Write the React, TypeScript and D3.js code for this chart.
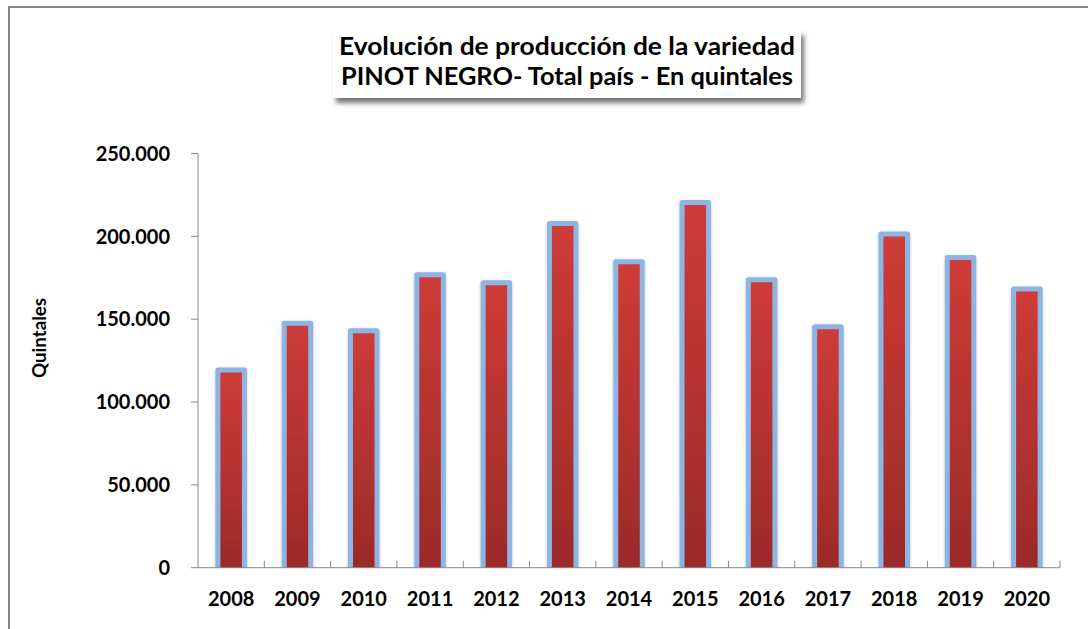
import React from "react";
import * as d3 from "d3";

const years: string[] = ["2008","2009","2010","2011","2012","2013","2014","2015","2016","2017","2018","2019","2020"];
const quintales: number[] = [119300,147500,143000,176800,172000,207700,184700,220400,173800,145500,201400,187300,168200];
const yTicks: number[] = [0,50000,100000,150000,200000,250000];
const titleLines: string[] = ["Evolución de producción de la variedad","PINOT NEGRO- Total país - En quintales"];
const yTitle = "Quintales";

const W = 1088, H = 629;
const plot = { left: 198, right: 1060, top: 153.5, bottom: 567.7 };
const FONT = "Lato, 'Open Sans', sans-serif";

export default function App() {
  const x = d3.scaleBand<string>().domain(years).range([plot.left, plot.right]).padding(0);
  const y = d3.scaleLinear().domain([0, 250000]).range([plot.bottom, plot.top]);
  const fmt = (v: number) => d3.format(",")(v).replace(/,/g, ".");
  const bw = x.bandwidth() * 0.4;
  return (
    <svg width={W} height={H} style={{ position: "absolute", left: 0, top: 0, background: "#fff" }}>
      <defs>
        <linearGradient id="redg" x1="0" y1="0" x2="0" y2="1">
          <stop offset="0%" stopColor="#ce3c38" />
          <stop offset="100%" stopColor="#9a2a28" />
        </linearGradient>
        <filter id="bshadow" x="-30%" y="-10%" width="160%" height="120%">
          <feDropShadow dx="0" dy="1" stdDeviation="1.5" floodColor="#000" floodOpacity="0.25" />
        </filter>
        <filter id="tshadow" x="-10%" y="-20%" width="120%" height="160%">
          <feDropShadow dx="3" dy="5" stdDeviation="2.5" floodColor="#000" floodOpacity="0.55" />
        </filter>
        <clipPath id="plotclip">
          <rect x={0} y={0} width={W} height={plot.bottom} />
        </clipPath>
      </defs>
      <rect x={9} y={7} width={W + 50} height={H + 50} fill="#fff" stroke="#868686" strokeWidth={2} />

      {/* title */}
      <rect x={333} y={30} width={468} height={68} fill="#fff" filter="url(#tshadow)" />
      {titleLines.map((t, i) => (
        <text key={i} x={567} y={55 + i * 30} textAnchor="middle" fontFamily={FONT} fontWeight="bold"
          fontSize={24} fill="#000" textLength={i === 0 ? 456 : 452} lengthAdjust="spacingAndGlyphs">{t}</text>
      ))}

      {/* y axis */}
      <line x1={plot.left} x2={plot.left} y1={plot.top} y2={plot.bottom} stroke="#868686" strokeWidth={1} />
      {yTicks.map((v) => (
        <g key={v}>
          <line x1={plot.left - 7} x2={plot.left} y1={y(v)} y2={y(v)} stroke="#868686" strokeWidth={1} />
          <text x={170} y={y(v)} dy="0.36em" textAnchor="end" fontFamily={FONT} fontWeight="bold" fontSize={20} fill="#000">{fmt(v)}</text>
        </g>
      ))}
      <text transform={`translate(46,338) rotate(-90)`} textAnchor="middle" fontFamily={FONT} fontWeight="bold"
        fontSize={19} fill="#000" textLength={80} lengthAdjust="spacingAndGlyphs">{yTitle}</text>

      {/* bars */}
      <g clipPath="url(#plotclip)">
        {years.map((yr, i) => {
          const cx = (x(yr) as number) + x.bandwidth() / 2;
          const top = y(quintales[i]);
          return (
            <rect key={yr} x={cx - bw / 2} y={top} width={bw} height={plot.bottom - top + 4}
              fill="url(#redg)" stroke="#8db4e2" strokeWidth={5} strokeLinejoin="round" filter="url(#bshadow)" />
          );
        })}
      </g>

      {/* x axis */}
      <line x1={plot.left} x2={plot.right} y1={plot.bottom} y2={plot.bottom} stroke="#868686" strokeWidth={1} />
      {years.map((yr) => (
        <line key={yr} x1={(x(yr) as number) + x.bandwidth()} x2={(x(yr) as number) + x.bandwidth()}
          y1={plot.bottom - 7} y2={plot.bottom} stroke="#868686" strokeWidth={1} />
      ))}
      {years.map((yr) => (
        <text key={yr} x={(x(yr) as number) + x.bandwidth() / 2} y={606} textAnchor="middle" fontFamily={FONT}
          fontWeight="bold" fontSize={20} fill="#000">{yr}</text>
      ))}
    </svg>
  );
}
